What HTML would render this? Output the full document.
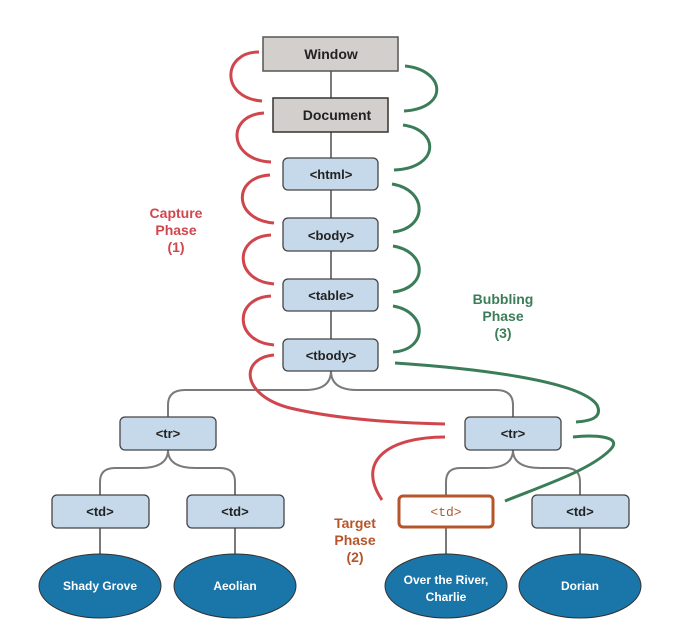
<!DOCTYPE html>
<html><head><meta charset="utf-8"><style>
body{margin:0;background:#fff}
text{font-family:"Liberation Sans",sans-serif;font-weight:bold}
</style></head><body>
<svg width="693" height="637" viewBox="0 0 693 637" xmlns="http://www.w3.org/2000/svg">
<g fill="none" stroke="#7a7a7a" stroke-width="2">
<line x1="331" y1="71" x2="331" y2="98"/>
<line x1="331" y1="132" x2="331" y2="158"/>
<line x1="331" y1="190" x2="331" y2="218"/>
<line x1="331" y1="251" x2="331" y2="279"/>
<line x1="331" y1="311" x2="331" y2="339"/>
<path d="M331 371 Q331 390 305 390 L185 390 Q168 390 168 405 L168 417"/>
<path d="M331 371 Q331 390 357 390 L496 390 Q513 390 513 405 L513 417"/>
<path d="M168 450 Q168 468 140 468 L115 468 Q100 468 100 482 L100 495"/>
<path d="M168 450 Q168 468 196 468 L220 468 Q235 468 235 482 L235 495"/>
<path d="M513 450 Q513 468 485 468 L460 468 Q446 468 446 482 L446 495"/>
<path d="M513 450 Q513 468 541 468 L566 468 Q580 468 580 482 L580 495"/>
<line x1="100" y1="528" x2="100" y2="554"/>
<line x1="235" y1="528" x2="235" y2="554"/>
<line x1="446" y1="528" x2="446" y2="554"/>
<line x1="580" y1="528" x2="580" y2="554"/>
</g>
<g fill="none" stroke="#d0464d" stroke-width="3">
<path d="M259 52 C222 52 220 98 262 101"/>
<path d="M264 113 C226 115 228 160 271 162"/>
<path d="M270 175 C232 177 233 220 274 223"/>
<path d="M271 235 C233 237 234 281 274 284"/>
<path d="M271 296 C233 298 234 342 274 345"/>
<path d="M274 355 C240 358 240 395 290 408 C340 420 400 423 445 424"/>
<path d="M445 437 C390 437 355 460 382 500"/>
</g>
<g fill="none" stroke="#3b7d58" stroke-width="3">
<path d="M405 66 C445 70 450 108 404 111"/>
<path d="M403 125 C440 130 440 168 394 170"/>
<path d="M392 184 C428 190 428 228 393 232"/>
<path d="M393 246 C428 252 428 288 393 292"/>
<path d="M393 306 C428 312 428 350 393 352"/>
<path d="M395 363 C470 368 580 380 597 405 C603 418 590 421 576 422"/>
<path d="M573 437 C590 435 625 435 610 450 C590 470 545 485 505 501"/>
</g>
<rect x="263" y="37" width="135" height="34" fill="#d3cfcc" stroke="#555" stroke-width="1.5"/>
<text x="331" y="59" text-anchor="middle" font-size="14" fill="#222">Window</text>
<rect x="273" y="98" width="115" height="34" fill="#d3cfcc" stroke="#333" stroke-width="1.5"/>
<text x="337" y="120" text-anchor="middle" font-size="14" fill="#222">Document</text>
<g fill="#c6d9ea" stroke="#444" stroke-width="1.3">
<rect x="283" y="158" width="95" height="32" rx="5"/>
<rect x="283" y="218" width="95" height="33" rx="5"/>
<rect x="283" y="279" width="95" height="32" rx="5"/>
<rect x="283" y="339" width="95" height="32" rx="5"/>
<rect x="120" y="417" width="96" height="33" rx="5"/>
<rect x="465" y="417" width="96" height="33" rx="5"/>
<rect x="52" y="495" width="97" height="33" rx="5"/>
<rect x="187" y="495" width="97" height="33" rx="5"/>
<rect x="532" y="495" width="97" height="33" rx="5"/>
</g>
<rect x="399" y="496" width="94" height="31" rx="4" fill="#fff" stroke="#b5562a" stroke-width="3"/>
<g font-size="13" fill="#222" text-anchor="middle">
<text x="331" y="179">&lt;html&gt;</text>
<text x="331" y="240">&lt;body&gt;</text>
<text x="331" y="300">&lt;table&gt;</text>
<text x="331" y="360">&lt;tbody&gt;</text>
<text x="168" y="438">&lt;tr&gt;</text>
<text x="513" y="438">&lt;tr&gt;</text>
<text x="100" y="516">&lt;td&gt;</text>
<text x="235" y="516">&lt;td&gt;</text>
<text x="580" y="516">&lt;td&gt;</text>
</g>
<text x="446" y="516" text-anchor="middle" font-size="13" fill="#b5562a" style="font-family:'Liberation Mono',monospace;font-weight:normal">&lt;td&gt;</text>
<g fill="#1a75a8" stroke="#333" stroke-width="1">
<ellipse cx="100" cy="586" rx="61" ry="32"/>
<ellipse cx="235" cy="586" rx="61" ry="32"/>
<ellipse cx="446" cy="586" rx="61" ry="32"/>
<ellipse cx="580" cy="586" rx="61" ry="32"/>
</g>
<g font-size="12" fill="#fff" text-anchor="middle">
<text x="100" y="590">Shady Grove</text>
<text x="235" y="590">Aeolian</text>
<text x="446" y="584">Over the River,</text>
<text x="446" y="601">Charlie</text>
<text x="580" y="590">Dorian</text>
</g>
<g font-size="14" fill="#d0464d" text-anchor="middle">
<text x="176" y="218">Capture</text><text x="176" y="235">Phase</text><text x="176" y="252">(1)</text>
</g>
<g font-size="14" fill="#3b7d58" text-anchor="middle">
<text x="503" y="304">Bubbling</text><text x="503" y="321">Phase</text><text x="503" y="338">(3)</text>
</g>
<g font-size="14" fill="#b5562a" text-anchor="middle">
<text x="355" y="528">Target</text><text x="355" y="545">Phase</text><text x="355" y="562">(2)</text>
</g>
</svg>
</body></html>
